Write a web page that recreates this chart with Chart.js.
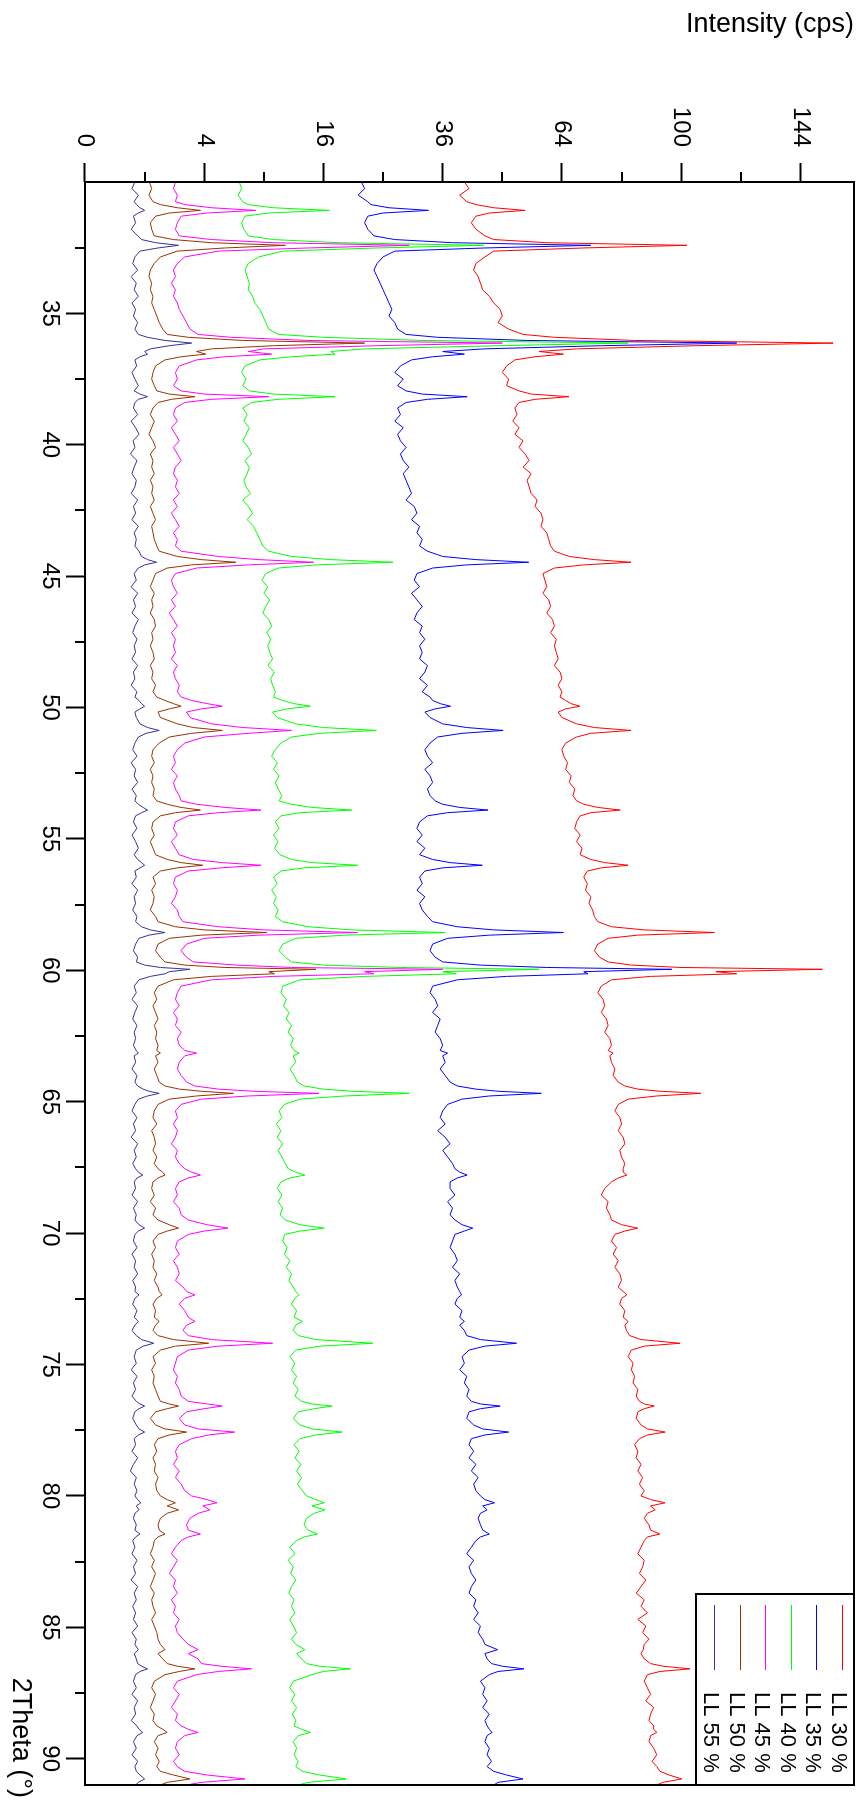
<!DOCTYPE html>
<html>
<head>
<meta charset="utf-8">
<title>XRD patterns</title>
<script src="https://cdn.jsdelivr.net/npm/chart.js@4.4.1/dist/chart.umd.min.js"></script>
<style>
    html, body { margin: 0; padding: 0; background: #fff; overflow: hidden; }
    /* the plot is drawn landscape and turned a quarter clockwise */
    #turn {
        position: absolute; left: 0; top: 0;
        width: 1806px; height: 858px;
        transform-origin: 0 0;
        transform: translate(858px, 0) rotate(90deg);
    }
</style>
</head>
<body>
<div id="turn"><canvas id="xrdChart" width="1806" height="858"></canvas></div>
<script>
// 2Theta sampling (degrees)
const twoTheta = [
    30.0, 30.25, 30.5, 30.75,
    30.86, 30.98, 31.08, 31.18, 31.3,
    31.55, 31.8, 32.05,
    32.19, 32.31, 32.41, 32.51, 32.63,
    32.85, 33.1, 33.35, 33.6, 33.85, 34.1, 34.35, 34.6, 34.85, 35.1, 35.35, 35.6, 35.8,
    35.91, 36.03, 36.13, 36.23, 36.35, 36.45, 36.55, 36.65, 36.77,
    37.0, 37.25, 37.5, 37.75, 37.95,
    38.07, 38.17, 38.27, 38.39,
    38.6, 38.85, 39.1, 39.35, 39.6, 39.85, 40.1, 40.35, 40.6, 40.85, 41.1, 41.35,
    41.6, 41.85, 42.1, 42.35, 42.6, 42.85, 43.1, 43.35, 43.6, 43.85, 44.05,
    44.25, 44.37, 44.47, 44.57, 44.69,
    44.9, 45.15, 45.4, 45.65, 45.9, 46.15, 46.4, 46.65, 46.9, 47.15, 47.4, 47.65,
    47.9, 48.15, 48.4, 48.65, 48.9, 49.15, 49.4, 49.6,
    49.73, 49.85, 49.95, 50.05, 50.17, 50.38,
    50.62, 50.76, 50.87, 50.98, 51.12,
    51.35, 51.6, 51.85, 52.1, 52.35, 52.6, 52.85, 53.1, 53.35, 53.55,
    53.68, 53.8, 53.9, 54.0, 54.12,
    54.35, 54.6, 54.85, 55.1, 55.35, 55.6,
    55.78, 55.9, 56.0, 56.1, 56.22,
    56.45, 56.7, 56.95, 57.2, 57.45, 57.7, 57.95, 58.15,
    58.34, 58.46, 58.56, 58.66, 58.78,
    59.0, 59.25, 59.5, 59.68,
    59.8, 59.89, 59.96, 60.05, 60.13, 60.23, 60.36,
    60.6, 60.85, 61.1, 61.35, 61.6, 61.85, 62.1, 62.35, 62.6, 62.85,
    63.05, 63.15, 63.25, 63.5, 63.75, 64.0, 64.25, 64.4,
    64.52, 64.6, 64.68, 64.78, 64.9,
    65.1, 65.35, 65.6, 65.85, 66.1, 66.35, 66.6, 66.85, 67.1, 67.35, 67.55,
    67.68, 67.79, 67.9, 68.05,
    68.3, 68.55, 68.8, 69.05, 69.3, 69.5,
    69.68, 69.81, 69.92, 70.05,
    70.3, 70.55, 70.8, 71.05, 71.3, 71.55, 71.8, 72.05, 72.22,
    72.35, 72.48, 72.7, 72.95, 73.2, 73.36, 73.5, 73.7, 73.9,
    74.05, 74.19, 74.3, 74.45,
    74.7, 74.95, 75.2, 75.45, 75.7, 75.95, 76.2, 76.4,
    76.5, 76.58, 76.68, 76.8, 77.05, 77.3, 77.45, 77.57, 77.68, 77.82,
    78.05, 78.3, 78.55, 78.8, 79.05, 79.3, 79.55, 79.8, 80.0,
    80.14, 80.26, 80.38, 80.53, 80.66, 80.85, 81.1, 81.3, 81.45, 81.56, 81.7,
    81.95, 82.2, 82.45, 82.7, 82.95, 83.2, 83.45, 83.7, 83.95, 84.2,
    84.45, 84.7, 84.95, 85.2, 85.45, 85.65,
    85.85, 86.0, 86.2, 86.38, 86.48, 86.58, 86.68, 86.8,
    87.05, 87.3, 87.55, 87.8, 88.05, 88.3, 88.55, 88.75,
    88.88, 89.0, 89.12, 89.35, 89.6, 89.85, 90.1, 90.3, 90.48,
    90.62, 90.77, 90.9, 91.0
];

// intensities (cps), one value per 2Theta step
const ll30 = [
    40.5, 41.5, 39.5, 41,
    43, 47, 54.5, 46, 43,
    42, 43, 45,
    47, 60, 102, 70, 47,
    45, 43, 42.5, 43.5, 44, 44.5, 46, 47, 48.5, 49, 48, 50.5, 54,
    62, 85, 157.5, 105, 68, 58, 64.4, 57, 52,
    50, 49, 50.5, 50, 53,
    56, 65.9, 57, 53,
    52, 52.5, 51.5, 53, 52, 54, 53, 54.5, 55.5, 54, 56, 55,
    55.5, 56, 57.5, 57, 58.5, 59, 58.5, 60, 60.5, 61, 62,
    66, 73, 83.9, 70, 62,
    59, 59.5, 60, 59, 60.5, 61, 60, 61.5, 62, 61, 62.5, 62,
    62.5, 63, 62, 63.5, 64, 63, 64, 63.5,
    65, 66.5, 68.9, 65, 63, 64,
    68, 73, 83.9, 72, 68,
    65, 64, 64.5, 65.5, 65, 66.5, 66, 67.5, 67, 68,
    70, 74, 80.6, 72, 69,
    68, 67.5, 69, 68, 69.5, 69,
    72, 76, 83, 75, 71,
    70, 71, 70.5, 72, 71.5, 72.5, 73, 74,
    78, 88, 111.5, 86, 77,
    74, 73, 74.5, 77,
    84, 100, 153, 112, 119.5, 90, 78,
    75, 74, 75.5, 76, 75, 76.5, 77, 76, 77.5, 78,
    77, 78.5, 77.5, 78, 79, 78.5, 80, 82,
    86, 93, 106.7, 92, 83,
    80, 79, 80.5, 81, 80, 81.5, 82, 80.5, 81, 82, 81.5,
    81.5, 82.6, 80, 78,
    76, 75, 77, 76.5, 77.5, 78,
    81, 86, 82, 79,
    78, 79.5, 78.5, 80, 79, 80.5, 81, 80, 81.5,
    82.6, 81, 80.5, 82, 81.5, 83, 82, 82.5, 83.5,
    87, 99.6, 88, 84,
    83, 84.5, 84, 85, 84.5, 86, 85.5, 86.5,
    88, 91.2, 88, 86, 85.5, 87, 89, 94.7, 89, 86.5,
    85, 86, 85.5, 87, 86, 87.5, 86.5, 88, 87,
    90, 94.7, 90, 91.5, 89, 88, 89.5, 90, 93, 89, 88,
    87, 86, 88, 87.5, 86.5, 88.5, 87, 85.5, 88, 87,
    89, 86, 88.5, 87.5, 89.5, 88,
    87.7, 87, 88, 90, 94, 103, 93, 89,
    88, 89, 90, 88.5, 91, 90, 89.5, 91,
    91, 92, 90, 89.5, 91, 92, 90.5, 92, 93,
    96, 100.2, 94, 92
];

const ll35 = [
    21.5, 22, 21, 22.5,
    23, 26, 33.2, 25, 22.5,
    22, 22.5, 23.5,
    27, 38, 72, 45, 27,
    25, 24, 23.5, 24, 24.5, 25, 25.5, 26, 26.5, 26, 27, 27.5, 29,
    35, 55, 119.5, 75, 45, 36, 40.5, 34, 30,
    28, 27, 28.5, 27.5, 29,
    32, 41.1, 33, 29,
    27.5, 28, 27, 28.5, 27.5, 28, 29, 28, 28.5, 29.5, 28.5, 29,
    29.5, 30, 29, 30.5, 31, 30, 31.5, 31, 32, 31.5, 33,
    36, 43, 55.4, 41, 34,
    31, 30.5, 31.5, 30, 31, 32, 31, 30.5, 32, 31.5, 32.5, 31.5,
    32, 31.5, 33, 32.5, 31.5, 33, 32, 33.5,
    34, 35.5, 37.6, 34.5, 32.5, 33.5,
    36, 41, 49.2, 40, 35,
    33.5, 32.5, 33, 34, 32.5, 33.5, 34, 33, 33.5, 34.5,
    36, 39.5, 45.7, 37, 33,
    31.5, 31, 32, 31, 32.5, 31.5,
    34, 37.5, 44.4, 36, 32.5,
    31.5, 32, 31, 32.5, 31.5, 32, 33, 34,
    39, 47, 64.4, 46, 37,
    34, 33.5, 34.5, 36,
    44, 60, 96.9, 70, 71.2, 50, 39,
    34, 33.5, 34.5, 35, 34, 35.5, 35, 34.5, 35.5, 36,
    35.5, 37, 36, 36.5, 35.5, 36.5, 37.5, 39,
    43, 48, 58.6, 46, 40,
    37, 36, 35.5, 36.5, 35, 36.5, 37.5, 36, 37, 38, 38.5,
    39.5, 41.1, 39, 37.5,
    37.5, 38.5, 37, 38, 37.5, 38.5,
    40, 42.3, 40.5, 38.5,
    38, 37.5, 38.5, 39, 38, 39.5, 38.5, 39, 39.5,
    39.9, 39, 38.5, 40, 39.5, 40.5, 39.5, 40.5, 41,
    44, 52.4, 45, 41.5,
    40, 40.5, 39.5, 41, 40.5, 41.5, 41, 42,
    44, 48.5, 44, 41.5, 41, 42.5, 44.5, 50.5, 45, 42,
    41.5, 42.5, 41.5, 43, 42, 43.5, 42.5, 43, 44,
    45, 47.2, 44.5, 45.5, 44, 43.5, 44, 44.5, 46, 44, 43,
    42, 41, 42.5, 41.5, 42, 43, 42, 41.5, 43, 42.5,
    43.5, 42.5, 44, 43.5, 44.5, 45,
    47.9, 45, 45.5, 46.5, 49, 54.2, 48, 46,
    44, 45, 44.5, 45.5, 44.5, 46, 45, 45.5,
    46, 46.6, 45.5, 45, 46, 45.5, 46.5, 45.5, 47,
    50, 54, 48, 47
];

const ll40 = [
    6.7, 6.9, 6.6, 7.0,
    7.5, 10, 16.8, 9.5, 7.2,
    6.9, 7.1, 7.5,
    10, 18, 44.7, 24, 11,
    8.5, 7.5, 7.2, 7.4, 7.6, 7.5, 7.9, 8.1, 8.6, 8.9, 9.2, 9.5, 10.5,
    16, 32, 83, 48, 22, 17, 17.6, 12, 8.6,
    7.2, 6.9, 7.3, 7.0, 7.6,
    10, 17.6, 10.5, 7.8,
    7.0, 7.4, 7.1, 7.6, 7.3, 7.0, 7.5, 7.8, 7.2, 7.6, 7.4, 7.1,
    7.3, 7.7, 7.0, 7.5, 7.9, 7.4, 8.0, 8.3, 8.6, 8.9, 9.5,
    12, 17, 26.7, 15, 10.5,
    9.2, 8.8, 9.4, 9.0, 9.6, 9.2, 8.9, 9.5, 9.8, 9.3, 9.7, 9.4,
    9.6, 9.9, 9.4, 10.1, 9.7, 9.9, 10.2, 10.0,
    11, 12.3, 14.3, 11.5, 9.9, 10.4,
    12.5, 16, 23.9, 15.5, 12,
    10.8, 10.2, 9.8, 10.4, 10.0, 10.6, 10.2, 10.5, 10.9, 10.6,
    12, 14.5, 20, 13, 10.8,
    10.2, 10.6, 10.0, 10.5, 10.1, 10.7,
    12, 14.5, 20.9, 13.5, 10.8,
    10.0, 10.4, 9.8, 10.3, 10.0, 10.5, 10.2, 11,
    14, 20, 36.5, 19, 12.5,
    11.0, 10.6, 11.3, 12,
    16, 28, 58, 36, 38.8, 22, 13,
    11.0, 10.8, 11.4, 11.1, 11.7, 11.4, 12.0, 11.6, 12.2, 11.9,
    12.3, 12.9, 12.2, 12.5, 11.8, 12.3, 12.7, 13.5,
    16, 20, 29.6, 19, 13,
    11.2, 10.6, 10.9, 10.3, 10.8, 10.4, 11.0, 10.5, 10.9, 11.3, 11.6,
    12.5, 13.6, 11.8, 10.8,
    10.4, 10.9, 10.5, 11.0, 10.7, 11.3,
    13, 16.1, 13, 11.2,
    11.0, 11.5, 11.2, 11.8, 11.4, 12.0, 11.7, 12.2, 12.5,
    12.9, 12.4, 12.0, 12.6, 12.3, 13.3, 12.5, 12.2, 12.8,
    15, 23.3, 15.5, 12.5,
    11.8, 12.4, 12.0, 12.6, 12.2, 12.8, 12.4, 13.2,
    14.5, 17.2, 14.8, 12.8, 12.2, 13.0, 14.5, 18.6, 15, 13,
    12.3, 12.9, 12.4, 13.1, 12.6, 13.2, 12.7, 13.3, 13.8,
    15, 16.1, 14.5, 16.2, 14.8, 13.8, 13.5, 14.0, 15.2, 13.5, 12.6,
    11.8, 12.4, 11.6, 12.2, 11.9, 12.5, 12.0, 11.7, 12.3, 12.0,
    12.4, 11.8, 12.2, 12.6, 12.0, 12.5,
    13.6, 12.6, 13.2, 13.8, 15.5, 19.8, 16, 14.5,
    12.2, 11.8, 12.4, 12.0, 12.6, 12.1, 12.5, 12.3,
    13.2, 14.3, 12.8, 12.2, 12.6, 12.3, 12.8, 12.5, 13.3,
    15.5, 19.2, 14, 12.8
];

const ll45 = [
    2.3, 2.2, 2.4, 2.3,
    2.8, 4.5, 8.2, 4.2, 2.6,
    2.4, 2.3, 2.5,
    4.5, 10, 29.6, 14, 5,
    2.8, 2.4, 2.2, 2.3, 2.1, 2.3, 2.2, 2.4, 2.5, 2.7, 2.9, 3.1, 3.6,
    6, 14, 49, 24, 9, 7.5, 9.8, 5.5, 3.5,
    2.5, 2.3, 2.4, 2.2, 2.6,
    4, 9.5, 4.5, 2.8,
    2.3, 2.2, 2.4, 2.1, 2.3, 2.5, 2.2, 2.4, 2.6, 2.3, 2.2, 2.4,
    2.3, 2.5, 2.2, 2.4, 2.1, 2.3, 2.5, 2.2, 2.4, 2.3, 2.6,
    5, 8.5, 14.7, 7.5, 3.5,
    2.3, 2.1, 2.2, 2.4, 2.1, 2.3, 2.0, 2.2, 2.4, 2.1, 2.3, 2.2,
    2.3, 2.1, 2.4, 2.2, 2.3, 2.5, 2.4, 2.6,
    3.2, 4.2, 5.3, 3.8, 2.9, 3.1,
    4.5, 7, 12, 7.5, 4,
    2.8, 2.4, 2.2, 2.3, 2.1, 2.4, 2.2, 2.3, 2.5, 2.6,
    3.5, 5.5, 8.7, 5, 3,
    2.3, 2.2, 2.4, 2.1, 2.3, 2.5,
    3.3, 5.3, 8.7, 5.2, 3,
    2.3, 2.2, 2.4, 2.3, 2.1, 2.4, 2.5, 2.7,
    5, 9, 20.9, 8.5, 4,
    2.9, 2.6, 2.9, 3.3,
    6.5, 12, 36, 22, 23.5, 10, 4.5,
    2.6, 2.4, 2.3, 2.5, 2.2, 2.4, 2.3, 2.6, 2.4, 2.5,
    2.8, 3.5, 2.8, 2.5, 2.4, 2.6, 2.9, 3.4,
    5, 8, 15.4, 7.5, 3.8,
    2.6, 2.3, 2.4, 2.2, 2.4, 2.3, 2.1, 2.4, 2.3, 2.5, 2.8,
    3.2, 3.75, 3.0, 2.5,
    2.3, 2.4, 2.2, 2.5, 2.6, 3.0,
    4.2, 5.75, 4.0, 3.0,
    2.4, 2.3, 2.5, 2.2, 2.4, 2.5, 2.3, 2.7, 2.9,
    3.4, 2.8, 2.5, 2.8, 3.0, 3.4, 2.9, 2.7, 3.0,
    4.5, 9.9, 5, 3,
    2.4, 2.3, 2.2, 2.4, 2.3, 2.5, 2.6, 3.0,
    4.2, 5.3, 4.0, 2.9, 2.5, 2.8, 3.6, 6.3, 4.3, 3.2,
    2.5, 2.3, 2.4, 2.2, 2.5, 2.3, 2.6, 2.8, 3.2,
    4.2, 4.9, 3.9, 4.4, 3.6, 3.1, 2.9, 3.0, 3.75, 3.0, 2.6,
    2.3, 2.1, 2.4, 2.2, 2.0, 2.3, 2.2, 2.4, 2.1, 2.3,
    2.2, 2.5, 2.3, 2.4, 2.7, 3.0,
    3.6, 3.0, 3.6, 3.8, 5.2, 7.8, 5.0, 3.5,
    2.4, 2.2, 2.5, 2.3, 2.1, 2.4, 2.3, 2.6,
    3.0, 3.6, 2.8, 2.4, 2.3, 2.5, 2.2, 2.4, 2.8,
    4.2, 7.2, 3.8, 2.9
];

const ll50 = [
    1.17, 1.25, 1.15, 1.3,
    1.6, 2.4, 3.75, 2.0, 1.4,
    1.2, 1.25, 1.35,
    2.2, 4.5, 11.3, 5.5, 2.4,
    1.6, 1.35, 1.2, 1.15, 1.25, 1.2, 1.3, 1.25, 1.35, 1.45, 1.55, 1.7, 1.9,
    3, 7, 22, 10, 4.5, 3.5, 4.1, 2.6, 1.8,
    1.4, 1.3, 1.25, 1.35, 1.45,
    2.0, 3.4, 2.1, 1.5,
    1.3, 1.2, 1.35, 1.25, 1.15, 1.3, 1.4, 1.2, 1.3, 1.25, 1.35, 1.2,
    1.3, 1.25, 1.35, 1.2, 1.3, 1.4, 1.25, 1.3, 1.35, 1.45, 1.55,
    2.4, 3.8, 6.4, 3.2, 1.9,
    1.4, 1.3, 1.2, 1.35, 1.25, 1.3, 1.2, 1.35, 1.4, 1.25, 1.3, 1.2,
    1.3, 1.35, 1.2, 1.3, 1.25, 1.4, 1.3, 1.45,
    1.8, 2.2, 2.6, 2.0, 1.5, 1.6,
    2.4, 3.3, 5.3, 3.2, 2.0,
    1.55, 1.3, 1.25, 1.35, 1.2, 1.3, 1.25, 1.35, 1.3, 1.45,
    1.9, 2.6, 3.75, 2.3, 1.6,
    1.3, 1.25, 1.35, 1.2, 1.3, 1.4,
    1.9, 2.6, 3.9, 2.4, 1.6,
    1.3, 1.4, 1.25, 1.35, 1.3, 1.2, 1.4, 1.5,
    2.3, 4.0, 9.3, 3.8, 2.0,
    1.5, 1.4, 1.6, 1.8,
    2.8, 5.5, 15, 9.5, 10.1, 4.5, 2.2,
    1.5, 1.35, 1.45, 1.3, 1.4, 1.5, 1.35, 1.45, 1.4, 1.5,
    1.45, 1.6, 1.4, 1.5, 1.35, 1.45, 1.55, 1.8,
    2.5, 3.8, 6.2, 3.5, 2.0,
    1.5, 1.35, 1.3, 1.45, 1.25, 1.35, 1.4, 1.3, 1.45, 1.35, 1.5,
    1.7, 1.8, 1.5, 1.3,
    1.25, 1.35, 1.2, 1.4, 1.3, 1.5,
    2.0, 2.46, 1.9, 1.5,
    1.3, 1.4, 1.25, 1.35, 1.3, 1.45, 1.35, 1.5, 1.55,
    1.67, 1.45, 1.3, 1.4, 1.35, 1.55, 1.4, 1.3, 1.5,
    2.2, 4.3, 2.3, 1.6,
    1.3, 1.4, 1.25, 1.35, 1.3, 1.4, 1.5, 1.6,
    2.0, 2.46, 1.9, 1.4, 1.2, 1.4, 1.8, 2.9, 2.0, 1.5,
    1.35, 1.45, 1.3, 1.4, 1.35, 1.5, 1.4, 1.45, 1.6,
    1.9, 2.3, 1.9, 2.46, 1.9, 1.6, 1.5, 1.55, 1.8, 1.5, 1.35,
    1.3, 1.2, 1.35, 1.25, 1.4, 1.3, 1.2, 1.35, 1.25, 1.3,
    1.4, 1.25, 1.35, 1.45, 1.5, 1.6,
    1.8, 1.5, 1.7, 1.9, 2.4, 3.4, 2.5, 1.8,
    1.35, 1.25, 1.4, 1.3, 1.2, 1.35, 1.3, 1.45,
    1.7, 1.9, 1.5, 1.35, 1.5, 1.4, 1.55, 1.45, 1.6,
    2.2, 3.1, 1.9, 1.6
];

const ll55 = [
    0.7, 0.62, 0.8, 0.68,
    0.75, 0.85, 1.0, 0.8, 0.66,
    0.72, 0.6, 0.78,
    0.9, 1.4, 2.46, 1.5, 0.85,
    0.7, 0.64, 0.78, 0.6, 0.74, 0.68, 0.8, 0.62, 0.72, 0.66, 0.78, 0.7, 0.8,
    1.1, 1.8, 3.2, 2.0, 1.2, 1.0, 1.1, 0.85, 0.7,
    0.75, 0.62, 0.7, 0.8, 0.68,
    0.85, 1.1, 0.8, 0.7,
    0.66, 0.78, 0.6, 0.72, 0.82, 0.65, 0.7, 0.58, 0.76, 0.68, 0.62, 0.74,
    0.7, 0.6, 0.78, 0.66, 0.72, 0.62, 0.8, 0.68, 0.74, 0.7, 0.82,
    0.9, 1.1, 1.44, 1.0, 0.8,
    0.68, 0.74, 0.6, 0.78, 0.66, 0.72, 0.62, 0.8, 0.7, 0.64, 0.76, 0.68,
    0.72, 0.62, 0.78, 0.66, 0.7, 0.6, 0.76, 0.7,
    0.82, 0.9, 1.0, 0.85, 0.7, 0.74,
    0.85, 1.1, 1.55, 1.05, 0.8,
    0.7, 0.64, 0.76, 0.6, 0.72, 0.68, 0.78, 0.62, 0.74, 0.7,
    0.8, 0.95, 1.1, 0.9, 0.72,
    0.66, 0.76, 0.62, 0.72, 0.8, 0.68,
    0.78, 0.9, 1.0, 0.85, 0.7,
    0.74, 0.62, 0.78, 0.68, 0.72, 0.64, 0.76, 0.72,
    0.9, 1.2, 1.8, 1.15, 0.82,
    0.72, 0.66, 0.78, 0.74,
    1.0, 1.6, 3.1, 2.0, 1.8, 1.2, 0.82,
    0.68, 0.74, 0.62, 0.78, 0.7, 0.64, 0.76, 0.68, 0.72, 0.66,
    0.74, 0.8, 0.68, 0.72, 0.62, 0.76, 0.7, 0.78,
    0.95, 1.15, 1.55, 1.1, 0.8,
    0.7, 0.62, 0.76, 0.66, 0.72, 0.6, 0.78, 0.68, 0.74, 0.64, 0.72,
    0.8, 0.94, 0.76, 0.68,
    0.72, 0.62, 0.78, 0.66, 0.74, 0.7,
    0.82, 1.0, 0.8, 0.7,
    0.66, 0.76, 0.62, 0.72, 0.68, 0.78, 0.64, 0.72, 0.7,
    0.82, 0.7, 0.64, 0.76, 0.68, 0.8, 0.7, 0.62, 0.74,
    0.9, 1.33, 0.95, 0.74,
    0.68, 0.74, 0.6, 0.76, 0.66, 0.72, 0.62, 0.74,
    0.85, 1.0, 0.82, 0.7, 0.64, 0.74, 0.82, 1.0, 0.8, 0.68,
    0.72, 0.62, 0.78, 0.66, 0.58, 0.74, 0.68, 0.76, 0.7,
    0.78, 0.88, 0.74, 0.82, 0.7, 0.66, 0.74, 0.7, 0.85, 0.72, 0.64,
    0.7, 0.62, 0.76, 0.66, 0.72, 0.6, 0.78, 0.68, 0.74, 0.64,
    0.72, 0.66, 0.78, 0.62, 0.74, 0.7,
    0.8, 0.68, 0.74, 0.78, 0.9, 1.1, 0.85, 0.72,
    0.66, 0.74, 0.62, 0.78, 0.68, 0.72, 0.6, 0.76,
    0.82, 0.94, 0.76, 0.66, 0.74, 0.62, 0.78, 0.7, 0.74,
    0.85, 1.0, 0.8, 0.72
];

const seriesNames = ['LL 30 %', 'LL 35 %', 'LL 40 %', 'LL 45 %', 'LL 50 %', 'LL 55 %'];
const seriesValues = [ll30, ll35, ll40, ll45, ll50, ll55];
const seriesColors = ['#ff0000', '#0000ff', '#00ff00', '#ff00ff', '#993300', '#333399'];

// axis ticks
const thetaTicks = [35, 40, 45, 50, 55, 60, 65, 70, 75, 80, 85, 90];
const thetaMinorTicks = [32.5, 37.5, 42.5, 47.5, 52.5, 57.5, 62.5, 67.5, 72.5, 77.5, 82.5, 87.5];
const intensityTicks = [0, 4, 16, 36, 64, 100, 144];
const intensityMinorTicks = [1, 9, 25, 49, 81, 121];

const FONT = "'Liberation Sans', Arial, sans-serif";

class XrdPlot {
    constructor(canvasId) {
        this.canvasId = canvasId;
        this.checkData();
        this.chart = this.createChart();
    }

    checkData() {
        seriesValues.forEach((vals, i) => {
            if (vals.length !== twoTheta.length) {
                throw new Error(seriesNames[i] + ': ' + vals.length + ' values for ' + twoTheta.length + ' angles');
            }
        });
    }

    // the intensity axis is a square-root scale: plot sqrt(cps), label with cps
    buildDatasets() {
        return seriesValues.map((vals, i) => ({
            label: seriesNames[i],
            data: twoTheta.map((t, k) => ({ x: t, y: Math.sqrt(vals[k]) })),
            borderColor: seriesColors[i],
            borderWidth: 1,
            pointRadius: 0,
            tension: 0,
            fill: false
        })).reverse();
    }

    // frame, short minor ticks, x title and the boxed legend
    decorations() {
        return {
            id: 'decorations',
            afterDraw(chart) {
                const { ctx, chartArea: a, scales } = chart;
                ctx.save();
                ctx.strokeStyle = '#000';
                ctx.lineWidth = 2;

                ctx.beginPath();
                thetaMinorTicks.forEach(t => {
                    const x = Math.round(scales.x.getPixelForValue(t));
                    ctx.moveTo(x, a.bottom);
                    ctx.lineTo(x, a.bottom + 10);
                });
                intensityMinorTicks.forEach(v => {
                    const y = Math.round(scales.y.getPixelForValue(Math.sqrt(v)));
                    ctx.moveTo(a.left, y);
                    ctx.lineTo(a.left - 10, y);
                });
                ctx.stroke();

                ctx.fillStyle = '#000';
                ctx.font = '27px ' + FONT;
                ctx.textAlign = 'right';
                ctx.textBaseline = 'middle';
                ctx.fillText('2Theta (°)', a.right + 13, chart.height - 20);

                // legend box in the top-right corner
                const bx = a.right - 191, by = a.top, bw = 191, bh = 158;
                ctx.fillStyle = '#fff';
                ctx.fillRect(bx, by, bw, bh);
                ctx.strokeRect(bx, by, bw, bh);

                ctx.font = '22px ' + FONT;
                ctx.textAlign = 'left';
                seriesNames.forEach((name, i) => {
                    const y = a.top + 11 + i * 25.6;
                    ctx.strokeStyle = seriesColors[i];
                    ctx.lineWidth = 1;
                    ctx.beginPath();
                    ctx.moveTo(a.right - 180, Math.round(y) + 0.5);
                    ctx.lineTo(a.right - 115, Math.round(y) + 0.5);
                    ctx.stroke();
                    ctx.fillStyle = '#000';
                    ctx.fillText(name, a.right - 93, y + 5);
                });

                ctx.strokeStyle = '#000';
                ctx.lineWidth = 2;
                ctx.strokeRect(a.left, a.top, a.right - a.left, a.bottom - a.top);
                ctx.restore();
            }
        };
    }

    createChart() {
        const ctx = document.getElementById(this.canvasId).getContext('2d');
        const tickFont = { family: FONT, size: 24 };
        const titleFont = { family: FONT, size: 27 };
        const tickGrid = {
            drawOnChartArea: false,
            drawTicks: true,
            tickLength: 19,
            tickWidth: 2,
            tickColor: '#000'
        };

        return new Chart(ctx, {
            type: 'line',
            data: { datasets: this.buildDatasets() },
            options: {
                responsive: false,
                animation: false,
                devicePixelRatio: 1,
                layout: { padding: { left: 0, right: 21, top: 4, bottom: 0 } },
                plugins: {
                    legend: { display: false },
                    tooltip: { enabled: false }
                },
                scales: {
                    x: {
                        type: 'linear',
                        min: 30,
                        max: 91,
                        grid: tickGrid,
                        border: { display: false },
                        afterBuildTicks: scale => {
                            scale.ticks = thetaTicks.map(v => ({ value: v }));
                        },
                        afterFit: scale => {
                            scale.height = 85;
                            scale.paddingLeft = 0;
                            scale.paddingRight = 0;
                        },
                        ticks: {
                            color: '#000',
                            font: tickFont,
                            padding: 2,
                            maxRotation: 0,
                            autoSkip: false
                        }
                    },
                    y: {
                        type: 'linear',
                        min: 0,
                        max: 12.9,
                        grid: tickGrid,
                        border: { display: false },
                        afterBuildTicks: scale => {
                            scale.ticks = intensityTicks.map(v => ({ value: Math.sqrt(v) }));
                        },
                        afterFit: scale => {
                            scale.width = 182;
                            scale.paddingTop = 0;
                            scale.paddingBottom = 0;
                        },
                        ticks: {
                            color: '#000',
                            font: tickFont,
                            padding: 16,
                            autoSkip: false,
                            callback: value => String(Math.round(value * value))
                        },
                        title: {
                            display: true,
                            text: 'Intensity (cps)',
                            align: 'end',
                            color: '#000',
                            font: titleFont,
                            padding: { top: 8, bottom: 0 }
                        }
                    }
                }
            },
            plugins: [this.decorations()]
        });
    }
}

new XrdPlot('xrdChart');
</script>
</body>
</html>
